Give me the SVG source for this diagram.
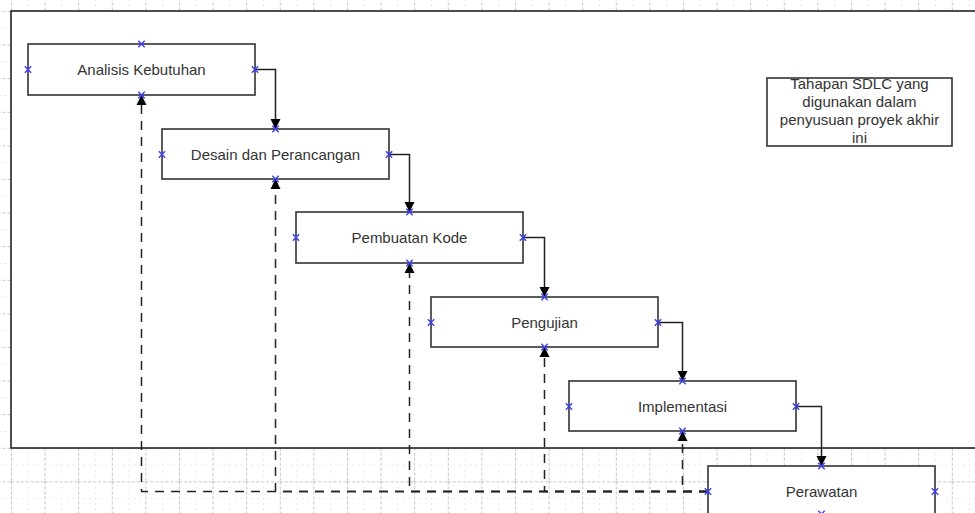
<svg xmlns="http://www.w3.org/2000/svg" width="975" height="513" viewBox="0 0 975 513">
<style>
.box{fill:#fff;stroke:#333;stroke-width:1.6}
.lbl{font-family:"Liberation Sans",Arial,sans-serif;font-size:15px;fill:#333;text-anchor:middle}
.solid{fill:none;stroke:#222;stroke-width:1.5;marker-end:url(#arr)}
.dash{fill:none;stroke:#222;stroke-width:1.5;stroke-dasharray:9,7;marker-end:url(#arr)}
.pt{stroke:#3d3df5;stroke-width:1.4;fill:none}
</style>
<defs>
<pattern id="grid" x="11" y="11" width="33.6" height="33.6" patternUnits="userSpaceOnUse">
<path d="M0.5,0 V33.6 M0,0.5 H33.6" stroke="#c4c4c4" stroke-width="1" stroke-dasharray="3,2" fill="none"/>
<path d="M17.3,0 V33.6 M0,17.3 H33.6" stroke="#cfcfcf" stroke-width="1" stroke-dasharray="1,4.6" fill="none"/>
</pattern>
<marker id="arr" markerUnits="userSpaceOnUse" markerWidth="12" markerHeight="12" viewBox="0 0 12 12" refX="11" refY="6" orient="auto">
<path d="M1,1 L11,6 L1,11 Z" fill="#000"/>
</marker>
<path id="x" d="M-3.2,-3.2 L3.2,3.2 M-3.2,3.2 L3.2,-3.2"/>
</defs>
<rect x="0" y="0" width="975" height="513" fill="#fff"/>
<rect x="0" y="0" width="975" height="513" fill="url(#grid)"/>
<rect x="11" y="11" width="975" height="437" fill="#fff" stroke="#222" stroke-width="1.6"/>

<g id="node-analisis">
<rect class="box" x="28" y="44" width="227" height="51"/>
<text class="lbl" x="141.5" y="75">Analisis Kebutuhan</text>
</g>
<g id="node-desain">
<rect class="box" x="162" y="129" width="227" height="50"/>
<text class="lbl" x="275.5" y="159.5">Desain dan Perancangan</text>
</g>
<g id="node-kode">
<rect class="box" x="296" y="212" width="227" height="51"/>
<text class="lbl" x="409.5" y="243">Pembuatan Kode</text>
</g>
<g id="node-pengujian">
<rect class="box" x="431" y="297" width="227" height="50"/>
<text class="lbl" x="544.5" y="327.5">Pengujian</text>
</g>
<g id="node-implementasi">
<rect class="box" x="569" y="381" width="227" height="50"/>
<text class="lbl" x="682.5" y="411.5">Implementasi</text>
</g>
<g id="node-perawatan">
<rect class="box" x="708" y="466" width="227" height="60"/>
<text class="lbl" x="821.5" y="497">Perawatan</text>
</g>
<g id="note">
<rect class="box" x="767" y="78" width="185" height="68"/>
<text class="lbl" x="859.5" y="89">Tahapan SDLC yang</text>
<text class="lbl" x="859.5" y="107">digunakan dalam</text>
<text class="lbl" x="859.5" y="125">penyusuan proyek akhir</text>
<text class="lbl" x="859.5" y="143">ini</text>
</g>

<g id="connectors">
<path class="solid" d="M255,69.5 H275.5 V129"/>
<path class="solid" d="M389,154.5 H409.5 V212"/>
<path class="solid" d="M523,237.5 H544.5 V297"/>
<path class="solid" d="M658,322.5 H682.5 V381"/>
<path class="solid" d="M796,406.5 H821.5 V466"/>
<path class="dash" d="M708,491.5 H682.5 V431"/>
<path class="dash" d="M708,491.5 H544.5 V347"/>
<path class="dash" d="M708,491.5 H409.5 V263"/>
<path class="dash" d="M708,491.5 H275.5 V179"/>
<path class="dash" d="M708,491.5 H141.5 V95"/>
</g>

<g id="points" class="pt">
<use href="#x" x="141.5" y="44"/><use href="#x" x="28" y="69.5"/><use href="#x" x="255" y="69.5"/><use href="#x" x="141.5" y="95"/>
<use href="#x" x="275.5" y="129"/><use href="#x" x="162" y="154.5"/><use href="#x" x="389" y="154.5"/><use href="#x" x="275.5" y="179"/>
<use href="#x" x="409.5" y="212"/><use href="#x" x="296" y="237.5"/><use href="#x" x="523" y="237.5"/><use href="#x" x="409.5" y="263"/>
<use href="#x" x="544.5" y="297"/><use href="#x" x="431" y="322.5"/><use href="#x" x="658" y="322.5"/><use href="#x" x="544.5" y="347"/>
<use href="#x" x="682.5" y="381"/><use href="#x" x="569" y="406.5"/><use href="#x" x="796" y="406.5"/><use href="#x" x="682.5" y="431"/>
<use href="#x" x="821.5" y="466"/><use href="#x" x="708" y="491.5"/><use href="#x" x="935" y="491.5"/><use href="#x" x="821.5" y="514"/>
</g>
</svg>
